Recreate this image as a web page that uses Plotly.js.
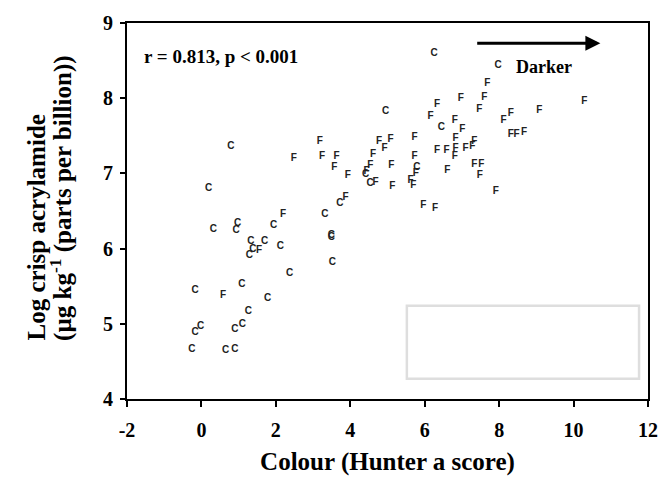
<!DOCTYPE html>
<html>
<head>
<meta charset="utf-8">
<script src="https://cdn.plot.ly/plotly-3.0.1.min.js"></script>
<style>html,body{margin:0;padding:0;background:#fff;}#chart{width:661px;height:481px;}</style>
</head>
<body>
<div id="chart"></div>
<script>
// C samples
const cX = [0.19,0.32,0.97,0.93,1.33,1.70,1.38,1.29,1.94,2.12,2.37,3.32,3.49,3.49,3.52,3.72,4.53,4.41,-0.17,1.09,1.78,1.26,-0.02,-0.17,1.10,0.90,-0.26,0.65,0.90,0.79,4.95,6.25,7.97,6.45,5.79];
const cY = [6.80,6.26,6.34,6.24,6.09,6.09,5.99,5.91,6.31,6.03,5.67,6.46,6.17,6.15,5.82,6.60,6.87,6.99,5.44,5.52,5.33,5.17,4.97,4.88,4.99,4.93,4.66,4.64,4.66,7.36,7.82,8.59,8.43,7.61,7.08];
// F samples
const fX = [2.19,1.55,0.58,3.87,4.68,3.18,2.48,3.24,3.63,3.57,3.93,4.77,5.08,4.92,4.61,4.54,4.44,5.10,5.13,5.73,5.73,5.76,5.62,5.69,6.33,6.59,6.83,6.81,6.61,6.33,6.16,6.97,7.60,7.68,7.47,6.81,7.01,6.83,7.33,7.28,7.10,7.33,7.52,7.48,7.91,8.12,8.31,8.31,8.47,8.67,9.08,10.29,5.96,6.28];
const fY = [6.45,5.97,5.37,6.68,6.88,7.42,7.20,7.22,7.22,7.08,6.97,7.43,7.45,7.33,7.25,7.11,7.03,7.10,6.82,7.48,7.22,7.00,6.90,6.84,7.31,7.31,7.33,7.23,7.04,7.91,7.76,7.99,8.01,8.19,7.85,7.70,7.59,7.47,7.42,7.36,7.33,7.12,7.12,6.97,6.76,7.71,7.79,7.52,7.52,7.54,7.83,7.95,6.57,6.53];

const xTicks = [-2,0,2,4,6,8,10,12];
const yTicks = [4,5,6,7,8,9];
const yTitleLines = ["Log crisp acrylamide", "(µg kg<sup>-1</sup> (parts per billion))"];

const serif = "Liberation Serif, Times New Roman, serif";
const markFont = {family: "Liberation Sans, Arial, sans-serif", size: 10, color: "#222", weight: "bold"};
const titleFont = {family: serif, size: 25, weight: "bold", color: "#000"};

const traces = [
  {x: cX, y: cY, mode: "text", text: cX.map(() => "C"), textposition: "middle center", textfont: markFont, name: "C", hoverinfo: "x+y", cliponaxis: false},
  {x: fX, y: fY, mode: "text", text: fX.map(() => "F"), textposition: "middle center", textfont: markFont, name: "F", hoverinfo: "x+y", cliponaxis: false}
];

const layout = {
  width: 661, height: 481,
  margin: {l: 127, r: 13, t: 23, b: 82},
  paper_bgcolor: "#fff", plot_bgcolor: "#fff",
  showlegend: false,
  font: {family: serif, color: "#000"},
  xaxis: {
    range: [-2, 12], tickvals: xTicks, ticktext: xTicks.map(String),
    showgrid: false, zeroline: false,
    showline: true, linecolor: "#000", linewidth: 2, mirror: true,
    ticks: "outside", ticklen: 6, tickwidth: 2, tickcolor: "#000",
    ticklabelstandoff: 6,
    tickfont: {family: serif, size: 20, weight: "bold", color: "#000"},
    title: {text: "Colour (Hunter a score)", font: titleFont, standoff: 12}
  },
  yaxis: {
    range: [4, 9], tickvals: yTicks, ticktext: yTicks.map(String),
    showgrid: false, zeroline: false,
    showline: true, linecolor: "#000", linewidth: 2, mirror: true,
    ticks: "outside", ticklen: 5, tickwidth: 2, tickcolor: "#000",
    ticklabelstandoff: 3,
    tickfont: {family: serif, size: 20, weight: "bold", color: "#000"}
  },
  shapes: [
    {type: "rect", xref: "x", yref: "y", x0: 5.52, x1: 11.76, y0: 4.27, y1: 5.24, line: {color: "#dedede", width: 2.5}, fillcolor: "rgba(0,0,0,0)"}
  ],
  annotations: [
    {xref: "paper", yref: "paper", x: -0.173, y: 0.150, xanchor: "center", yanchor: "bottom", textangle: -90, showarrow: false,
     text: yTitleLines[0], font: titleFont},
    {xref: "paper", yref: "paper", x: -0.127, y: 0.150, xanchor: "center", yanchor: "bottom", textangle: -90, showarrow: false,
     text: yTitleLines[1], font: titleFont},
    {xref: "x", yref: "y", x: -1.6, y: 8.55, xanchor: "left", yanchor: "middle", showarrow: false,
     text: "r = 0.813, p < 0.001", font: {family: serif, size: 19, weight: "bold", color: "#000"}},
    {xref: "x", yref: "y", x: 9.2, y: 8.41, xanchor: "center", yanchor: "middle", showarrow: false,
     text: "Darker", font: {family: serif, size: 18, weight: "bold", color: "#000"}},
    {xref: "x", yref: "y", axref: "x", ayref: "y", x: 10.72, y: 8.73, ax: 7.37, ay: 8.73,
     text: "", showarrow: true, arrowhead: 2, arrowsize: 1, arrowwidth: 3, arrowcolor: "#000"}
  ]
};

Plotly.newPlot("chart", traces, layout, {displayModeBar: false, staticPlot: true});
</script>
</body>
</html>
